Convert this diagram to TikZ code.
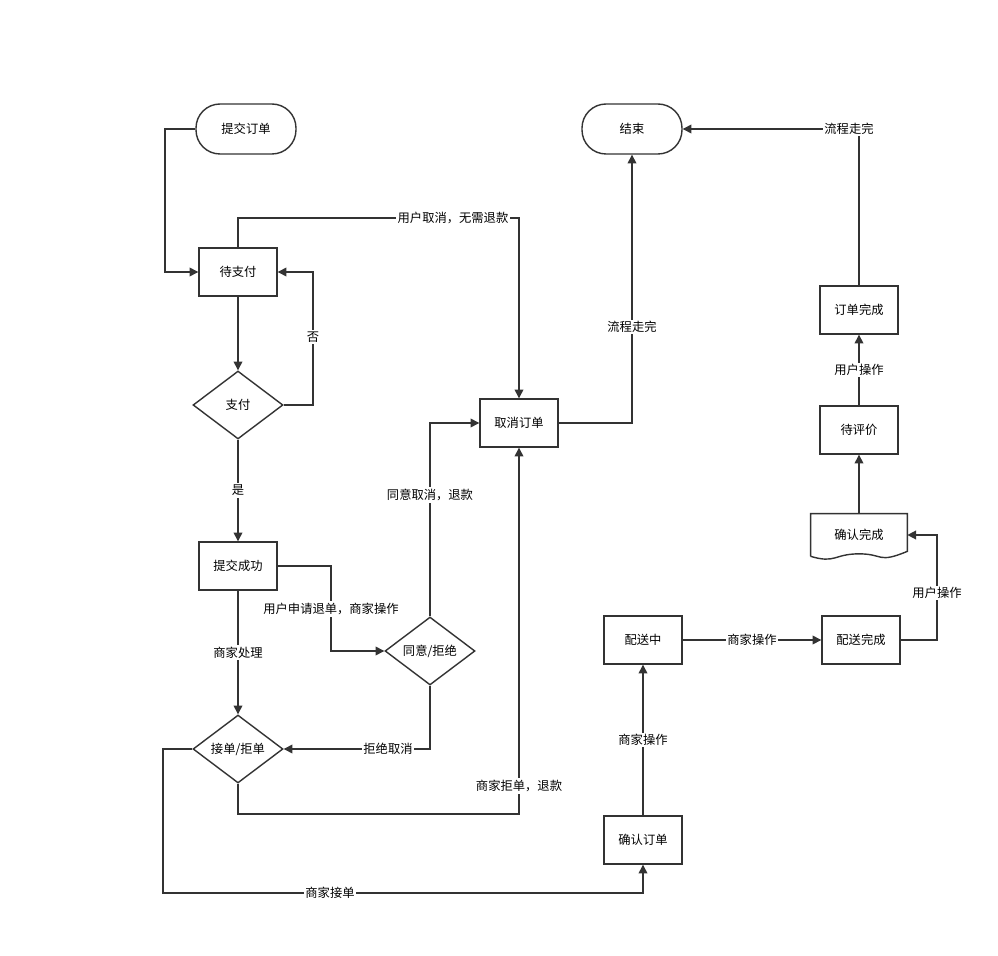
\documentclass[tikz,border=0pt]{standalone}
\usepackage{fontspec}
\setmainfont{Noto Sans CJK SC}
\usetikzlibrary{arrows.meta, positioning, shapes.geometric, calc}
\tikzset{
  box/.style = {rectangle, draw=black!80, thick, minimum width=1.56cm, minimum height=0.96cm, inner sep=1pt},
  term/.style = {rectangle, draw=black!80, thick, rounded corners=0.48cm, minimum width=2cm, minimum height=1cm},
  dec/.style = {diamond, draw=black!80, thick, minimum width=1.8cm, minimum height=1.36cm, inner sep=0pt},
  doc/.style = {rectangle, minimum width=1.92cm, minimum height=0.84cm},
  arrow/.style = {thick, draw=black!80, -{Triangle[length=5pt, width=5pt]}},
  lbl/.style = {fill=white, inner sep=1pt, font=\fontsize{7}{8}\selectfont}
}

\begin{document}
\begin{tikzpicture}[x=0.02cm, y=-0.02cm, font=\fontsize{7}{8}\selectfont]
  \useasboundingbox (0,0) rectangle (998,956);
  % Knoten
  \node[term] (submit) at (246,129) {提交订单};
  \node[box] (unpaid) at (238,272) {待支付};
  \node[dec] (pay) at (238,405) {支付};
  \node[box] (ok) at (238,566) {提交成功};
  \node[dec] (accept) at (238,749) {接单/拒单};
  \node[dec] (agree) at (430,651) {同意/拒绝};
  \node[box] (cancel) at (519,423) {取消订单};
  \node[term] (end) at (632,129) {结束};
  \node[box] (confirm) at (643,840) {确认订单};
  \node[box] (deliver) at (643,640) {配送中};
  \node[box] (delivered) at (861,640) {配送完成};
  \node[doc] (done) at (859,535) {确认完成};
  \node[box] (review) at (859,430) {待评价};
  \node[box] (finish) at (859,310) {订单完成};
  \draw[thick, draw=black!80] (done.south west) -- (done.north west) -- (done.north east) -- ($(done.south east)+(0,0.1cm)$)
    .. controls ++(-0.6cm,-0.25cm) and ++(0.5cm,0cm) .. ($(done.south)+(0,0.05cm)$)
    .. controls ++(-0.5cm,0cm) and ++(0.5cm,-0.15cm) .. (done.south west);

  % Verbindungen
  \draw[arrow] (submit.west) -| (165,200) |- (unpaid.west);
  \draw[arrow] (unpaid) -- (pay);
  \draw[arrow] (pay.east) -| (313,300) |- (unpaid.east);
  \node[lbl] at (313,337) {否};
  \draw[arrow] (pay) -- node[lbl] {是} (ok);
  \draw[arrow] (unpaid.north) |- (400,218) -| (cancel.north);
  \node[lbl] at (453,218) {用户取消，无需退款};
  \draw[arrow] (ok) -- node[lbl] {商家处理} (accept);
  \draw[arrow] (ok.east) -| (331,600) |- (agree.west);
  \node[lbl] at (331,609) {用户申请退单，商家操作};
  \draw[arrow] (agree.north) |- (cancel.west);
  \node[lbl] at (430,495) {同意取消，退款};
  \draw[arrow] (agree.south) |- (accept.east);
  \node[lbl] at (388,749) {拒绝取消};
  \draw[arrow] (accept.south) |- (400,814) -| (cancel.south);
  \node[lbl] at (519,786) {商家拒单，退款};
  \draw[arrow] (accept.west) -| (163,850) |- (400,893) -| (confirm.south);
  \node[lbl] at (330,893) {商家接单};
  \draw[arrow] (cancel.east) -| (end.south);
  \node[lbl] at (632,327) {流程走完};
  \draw[arrow] (finish.north) |- (end.east);
  \node[lbl] at (849,129) {流程走完};
  \draw[arrow] (confirm) -- node[lbl] {商家操作} (deliver);
  \draw[arrow] (deliver) -- node[lbl] {商家操作} (delivered);
  \draw[arrow] (delivered.east) -| (937,560) |- (done.east);
  \node[lbl] at (937,593) {用户操作};
  \draw[arrow] (done.north) -- (review.south);
  \draw[arrow] (review) -- node[lbl] {用户操作} (finish);
\end{tikzpicture}
\end{document}
